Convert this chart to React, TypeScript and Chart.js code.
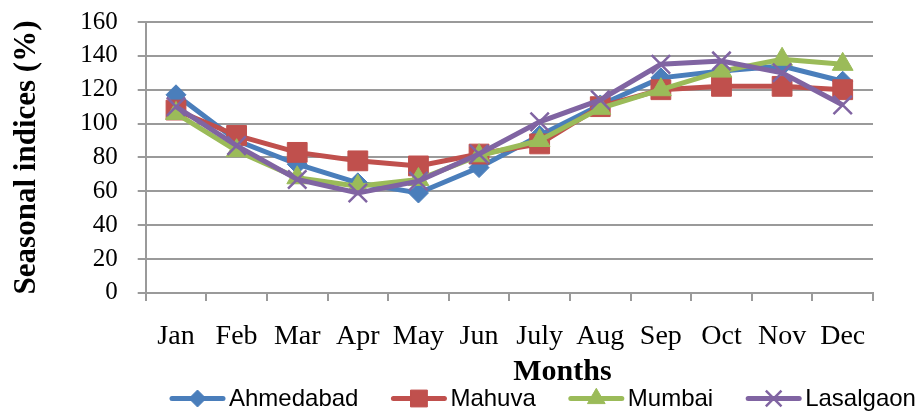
import React, { useEffect, useRef } from 'react';
import { Chart, registerables } from 'chart.js';
import { drawPoint } from 'chart.js/helpers';

Chart.register(...registerables);

const months = ['Jan', 'Feb', 'Mar', 'Apr', 'May', 'Jun', 'July', 'Aug', 'Sep', 'Oct', 'Nov', 'Dec'];
const ahmedabad = [117, 90, 76, 65, 59, 74, 93, 111, 127, 131, 134, 125];
const mahuva = [108, 93, 83, 78, 75, 82, 88, 110, 120, 122, 122, 120];
const mumbai = [106, 84, 68, 63, 67, 81, 90, 109, 120, 131, 138, 135];
const lasalgaon = [110, 87, 67, 59, 66, 82, 101, 114, 135, 137, 130, 111];
const seriesNames = ['Ahmedabad', 'Mahuva', 'Mumbai', 'Lasalgaon'];
const xTitle = 'Months';
const yTitle = 'Seasonal indices (%)';
const yMin = 0;
const yMax = 160;
const yStep = 20;

const SERIF = "'Liberation Serif', 'Times New Roman', serif";
const SANS = "'Liberation Sans', Arial, sans-serif";
const GRID = '#9a9a9a';

const legendPlugin = {
  id: 'excelLegend',
  afterDraw(chart: any) {
    const ctx = chart.ctx;
    ctx.save();
    // x-axis title (Excel places it right of centre)
    ctx.font = `bold 30px ${SERIF}`;
    ctx.fillStyle = '#000';
    ctx.textAlign = 'center';
    ctx.textBaseline = 'middle';
    ctx.fillText(xTitle, chart.chartArea.left + (chart.chartArea.right - chart.chartArea.left) * 0.573, 372);

    let x = 170;
    const y = 398.5;
    const lineLen = 55;
    ctx.font = `24px ${SANS}`;
    ctx.textBaseline = 'middle';
    ctx.textAlign = 'left';
    chart.data.datasets.forEach((ds: any) => {
      ctx.strokeStyle = ds.borderColor;
      ctx.lineWidth = 5;
      ctx.lineCap = 'round';
      ctx.beginPath();
      ctx.moveTo(x + 2, y);
      ctx.lineTo(x + lineLen - 2, y);
      ctx.stroke();
      ctx.lineCap = 'butt';
      ctx.fillStyle = ds.pointBackgroundColor;
      ctx.strokeStyle = ds.pointBorderColor;
      ctx.lineWidth = ds.pointBorderWidth;
      drawPoint(
        ctx,
        { pointStyle: ds.pointStyle, radius: ds.pointRadius * 0.85, rotation: 0, borderWidth: ds.pointBorderWidth } as any,
        x + lineLen / 2,
        y
      );
      ctx.fillStyle = '#000';
      ctx.fillText(ds.label, x + lineLen + 4, y + 1);
      x += lineLen + 4 + ctx.measureText(ds.label).width + 33;
    });
    ctx.restore();
  },
};

function makeDs(label: string, data: number[], color: string, style: string, radius: number, bw: number, order: number) {
  return {
    label,
    data,
    borderColor: color,
    backgroundColor: color,
    borderWidth: 5,
    pointStyle: style,
    pointRadius: radius,
    pointHoverRadius: radius,
    pointBackgroundColor: color,
    pointBorderColor: color,
    pointBorderWidth: bw,
    tension: 0,
    order,
  };
}

export default function App() {
  const ref = useRef<HTMLCanvasElement | null>(null);
  useEffect(() => {
    if (!ref.current) return;
    const chart = new Chart(ref.current, {
      type: 'line',
      data: {
        labels: months,
        datasets: [
          makeDs(seriesNames[0], ahmedabad, '#4A7EBB', 'rectRot', 10, 1, 3),
          makeDs(seriesNames[1], mahuva, '#C0504D', 'rect', 14, 1, 2),
          makeDs(seriesNames[2], mumbai, '#9BBB59', 'triangle', 12, 1, 1),
          makeDs(seriesNames[3], lasalgaon, '#8064A2', 'crossRot', 13, 2.5, 0),
        ] as any,
      },
      options: {
        animation: false,
        responsive: false,
        maintainAspectRatio: false,
        layout: { padding: { left: 4, right: 47, top: 22, bottom: 42.5 } },
        plugins: {
          legend: { display: false },
          tooltip: { enabled: false },
          title: { display: false },
        },
        scales: {
          x: {
            type: 'category',
            offset: true,
            grid: {
              display: true,
              drawOnChartArea: false,
              drawTicks: true,
              tickLength: 8,
              offset: true,
              color: GRID,
              lineWidth: 2,
            },
            border: { display: true, color: GRID, width: 2 },
            ticks: {
              color: '#000',
              padding: 19,
              maxRotation: 0,
              autoSkip: false,
              font: { family: SERIF, size: 28 },
            },
            title: { display: false },
          },
          y: {
            min: yMin,
            max: yMax,
            ticks: {
              stepSize: yStep,
              autoSkip: false,
              color: '#000',
              padding: 20,
              font: { family: SERIF, size: 25, lineHeight: 0.1 },
            },
            grid: {
              color: GRID,
              lineWidth: 2,
              drawTicks: true,
              tickLength: 8,
            },
            border: { display: true, color: GRID, width: 2 },
            title: {
              display: true,
              text: yTitle,
              color: '#000',
              padding: { top: 4, bottom: 15 },
              font: { family: SERIF, size: 31, weight: 'bold' },
            },
          },
        },
      },
      plugins: [legendPlugin],
    });
    return () => chart.destroy();
  }, []);
  return (
    <div style={{ position: 'absolute', left: 0, top: 0, width: 920, height: 415, background: '#fff' }}>
      <canvas ref={ref} width={920} height={415} style={{ width: 920, height: 415, display: 'block' }} />
    </div>
  );
}
